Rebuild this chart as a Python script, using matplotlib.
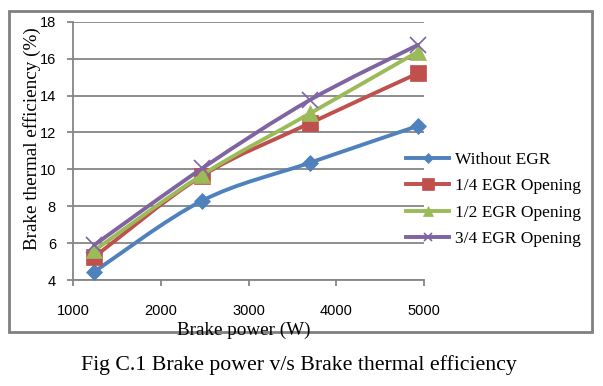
import matplotlib
matplotlib.use("Agg")
import matplotlib.pyplot as plt
from matplotlib.path import Path
from matplotlib.patches import PathPatch, Rectangle
from matplotlib.lines import Line2D
import numpy as np

# ---- data ----
brake_power = [1240, 2470, 3700, 4930]
without_egr = [4.45, 8.30, 10.36, 12.35]
egr_quarter = [5.25, 9.65, 12.50, 15.20]
egr_half = [5.60, 9.70, 13.03, 16.37]
egr_three_quarter = [5.90, 10.05, 13.76, 16.74]
series_labels = ["Without EGR", "1/4 EGR Opening", "1/2 EGR Opening", "3/4 EGR Opening"]
x_ticks = [1000, 2000, 3000, 4000, 5000]
y_ticks = [4, 6, 8, 10, 12, 14, 16, 18]

colors = ["#4F81BD", "#C0504D", "#9BBB59", "#8064A2"]
markers = ["D", "s", "^", "x"]
msizes = [8, 11.5, 12, 11]
leg_msizes = [5.5, 8, 7, 6]

W, H = 603, 386
fig = plt.figure(figsize=(W / 100, H / 100), dpi=100)
serif = "Liberation Serif"
sans = "Liberation Sans"

ax = fig.add_axes([73.3 / W, 1 - 280 / H, (424 - 73.3) / W, (280 - 21.7) / H])
ax.set_xlim(1000, 5000)
ax.set_ylim(4, 18)
grid_c = "#868686"
for s in ["top", "right"]:
    ax.spines[s].set_visible(False)
for s in ["left", "bottom"]:
    ax.spines[s].set_color(grid_c)
    ax.spines[s].set_linewidth(1.3)
ax.yaxis.grid(True, color=grid_c, linewidth=1.3)
ax.set_axisbelow(True)
ax.set_xticks(x_ticks)
ax.set_yticks(y_ticks)
ax.tick_params(axis="x", direction="out", length=4, width=1.3, color=grid_c, pad=13,
               labelsize=10.5)
ax.tick_params(axis="y", direction="out", length=4, width=1.3, color=grid_c, pad=8.5,
               labelsize=10.5)
for lab in ax.get_xticklabels() + ax.get_yticklabels():
    lab.set_fontfamily(sans)


def smooth_path(xs, ys):
    pts = np.column_stack([xs, ys]).astype(float)
    n = len(pts)
    verts = [pts[0]]
    codes = [Path.MOVETO]
    for i in range(n - 1):
        p0 = pts[i - 1] if i > 0 else pts[i]
        p1 = pts[i]
        p2 = pts[i + 1]
        p3 = pts[i + 2] if i + 2 < n else pts[i + 1]
        c1 = p1 + (p2 - p0) / 6.0
        c2 = p2 - (p3 - p1) / 6.0
        verts += [c1, c2, p2]
        codes += [Path.CURVE4] * 3
    return Path(verts, codes)


all_series = [without_egr, egr_quarter, egr_half, egr_three_quarter]
handles = []
for k, (ys, c, m, ms, lms, lab) in enumerate(zip(all_series, colors, markers, msizes,
                                                  leg_msizes, series_labels)):
    patch = PathPatch(smooth_path(brake_power, ys), facecolor="none", edgecolor=c,
                      linewidth=2.8, zorder=3 + 2 * k, capstyle="round", joinstyle="round")
    ax.add_patch(patch)
    if m == "x":
        ax.plot(brake_power, ys, linestyle="none", marker=m, markersize=ms,
                markeredgecolor=c, markeredgewidth=1.2, zorder=4 + 2 * k, clip_on=False)
    else:
        ax.plot(brake_power, ys, linestyle="none", marker=m, markersize=ms,
                markerfacecolor=c, markeredgecolor=c, markeredgewidth=0.5,
                zorder=4 + 2 * k, clip_on=False)
    handles.append(Line2D([], [], color=c, linewidth=2.8, marker=m, markersize=lms,
                          markerfacecolor=c, markeredgecolor=c,
                          markeredgewidth=1.2 if m == "x" else 0.5, label=lab))

leg = fig.legend(handles=handles, loc="upper left",
                 bbox_to_anchor=(406 / W, 1 - 152 / H), frameon=False,
                 prop={"family": serif, "size": 12.5}, handlelength=2.5,
                 handletextpad=0.3, labelspacing=0.58, borderpad=0, borderaxespad=0)

# outer frame
fig.patches.append(Rectangle((8.5 / W, 1 - 332 / H), (591.5 - 8.5) / W, (332 - 11) / H,
                             transform=fig.transFigure, fill=False, edgecolor="#808080",
                             linewidth=2.0, zorder=0))

fig.text(244 / W, 1 - 330 / H, "Brake power (W)", family=serif, fontsize=13.8,
         ha="center", va="center")
fig.text(32 / W, 1 - 139 / H, "Brake thermal efficiency (%)", family=serif,
         fontsize=13.8, rotation=90, ha="center", va="center")
fig.text(299 / W, 1 - 365 / H, "Fig C.1 Brake power v/s Brake thermal efficiency",
         family=serif, fontsize=15.7, ha="center", va="center")

fig.savefig("out.png", dpi=100)
